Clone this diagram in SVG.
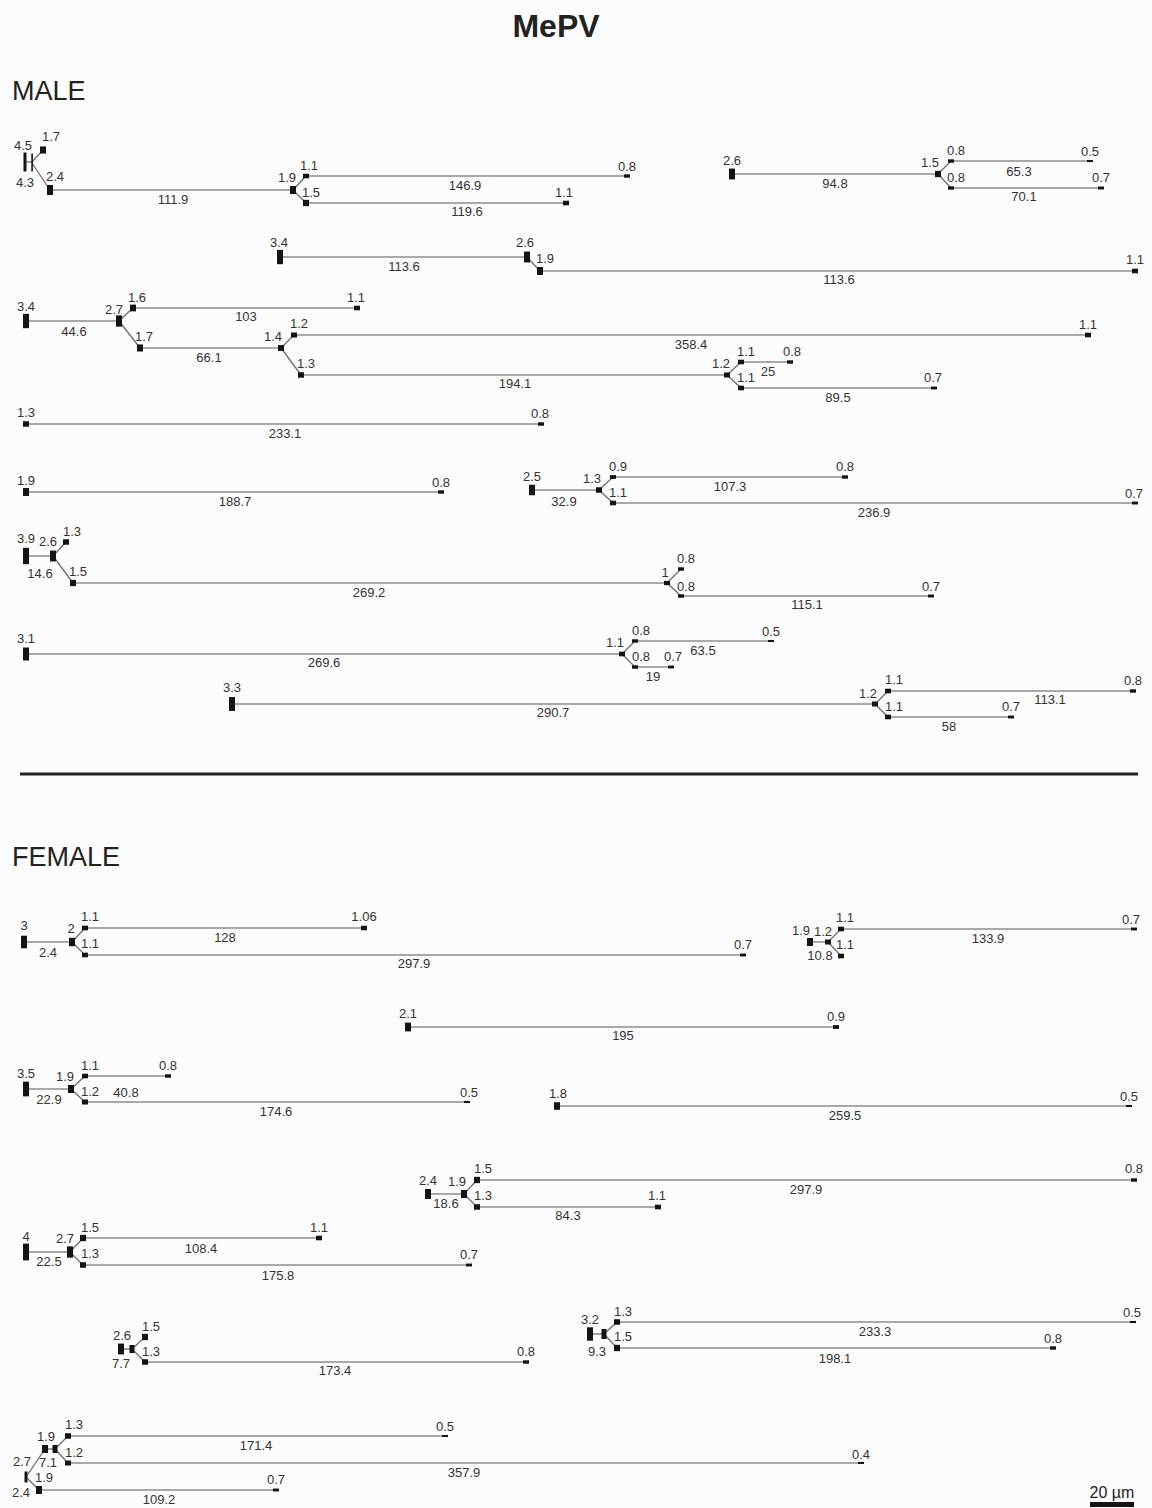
<svg xmlns="http://www.w3.org/2000/svg" width="1152" height="1508" viewBox="0 0 1152 1508">
<style>
.s{stroke:#a9a9a9;stroke-width:2;fill:none}
.b{stroke:#6e6e6e;stroke-width:1.3;fill:none}
.n{fill:#141414}
.t{font-family:"Liberation Sans",Arial,sans-serif;font-size:13px;fill:#333;text-anchor:middle}
.h{font-family:"Liberation Sans",Arial,sans-serif;font-size:27px;fill:#222}
</style>
<rect width="1152" height="1508" fill="#fcfcfc"/>
<text x="556" y="37" font-family="Liberation Sans, Arial, sans-serif" font-size="32" font-weight="bold" fill="#222" text-anchor="middle">MePV</text>
<text class="h" x="12" y="100">MALE</text>
<text class="h" x="12" y="866">FEMALE</text>
<line x1="20" y1="774" x2="1138" y2="774" stroke="#222" stroke-width="3"/>

<g id="connectors">
<!-- M1 -->
<line class="b" x1="25" y1="162" x2="32" y2="162"/>
<line class="b" x1="32" y1="162" x2="43" y2="150"/>
<line class="b" x1="32" y1="163" x2="50" y2="190"/>
<line class="s" x1="50" y1="190" x2="293" y2="190"/>
<line class="b" x1="293" y1="190" x2="306" y2="176"/>
<line class="b" x1="293" y1="190" x2="306" y2="203"/>
<line class="s" x1="306" y1="176" x2="627" y2="176"/>
<line class="s" x1="306" y1="203" x2="566" y2="203"/>
<!-- M2 -->
<line class="s" x1="732" y1="174" x2="938" y2="174"/>
<line class="b" x1="938" y1="174" x2="951" y2="161"/>
<line class="b" x1="938" y1="174" x2="951" y2="188"/>
<line class="s" x1="951" y1="161" x2="1090" y2="161"/>
<line class="s" x1="951" y1="188" x2="1101" y2="188"/>
<!-- M3 -->
<line class="s" x1="280" y1="257" x2="527" y2="257"/>
<line class="b" x1="527" y1="257" x2="540" y2="271"/>
<line class="s" x1="540" y1="271" x2="1135" y2="271"/>
<!-- M4 -->
<line class="s" x1="26" y1="321" x2="119" y2="321"/>
<line class="b" x1="119" y1="321" x2="133" y2="308"/>
<line class="s" x1="133" y1="308" x2="357" y2="308"/>
<line class="b" x1="119" y1="321" x2="140" y2="348"/>
<line class="s" x1="140" y1="348" x2="281" y2="348"/>
<line class="b" x1="281" y1="348" x2="294" y2="335"/>
<line class="s" x1="294" y1="335" x2="1088" y2="335"/>
<line class="b" x1="281" y1="348" x2="301" y2="375"/>
<line class="s" x1="301" y1="375" x2="727" y2="375"/>
<line class="b" x1="727" y1="375" x2="741" y2="362"/>
<line class="s" x1="741" y1="362" x2="790" y2="362"/>
<line class="b" x1="727" y1="375" x2="741" y2="388"/>
<line class="s" x1="741" y1="388" x2="934" y2="388"/>
<!-- M5 -->
<line class="s" x1="26" y1="424" x2="541" y2="424"/>
<!-- M6 -->
<line class="s" x1="26" y1="492" x2="441" y2="492"/>
<!-- M7 -->
<line class="s" x1="532" y1="490" x2="599" y2="490"/>
<line class="b" x1="599" y1="490" x2="613" y2="477"/>
<line class="s" x1="613" y1="477" x2="845" y2="477"/>
<line class="b" x1="599" y1="490" x2="613" y2="503"/>
<line class="s" x1="613" y1="503" x2="1135" y2="503"/>
<!-- M8 -->
<line class="s" x1="26" y1="556" x2="53" y2="556"/>
<line class="b" x1="53" y1="556" x2="66" y2="542"/>
<line class="b" x1="53" y1="556" x2="73" y2="583"/>
<line class="s" x1="73" y1="583" x2="667" y2="583"/>
<line class="b" x1="667" y1="583" x2="681" y2="569"/>
<line class="b" x1="667" y1="583" x2="681" y2="596"/>
<line class="s" x1="681" y1="596" x2="931" y2="596"/>
<!-- M9 -->
<line class="s" x1="26" y1="654" x2="622" y2="654"/>
<line class="b" x1="622" y1="654" x2="635" y2="641"/>
<line class="s" x1="635" y1="641" x2="771" y2="641"/>
<line class="b" x1="622" y1="654" x2="635" y2="667"/>
<line class="s" x1="635" y1="667" x2="671" y2="667"/>
<!-- M10 -->
<line class="s" x1="232" y1="704" x2="875" y2="704"/>
<line class="b" x1="875" y1="704" x2="888" y2="691"/>
<line class="s" x1="888" y1="691" x2="1133" y2="691"/>
<line class="b" x1="875" y1="704" x2="888" y2="717"/>
<line class="s" x1="888" y1="717" x2="1011" y2="717"/>
<!-- F1 -->
<line class="s" x1="24" y1="942" x2="72" y2="942"/>
<line class="b" x1="72" y1="942" x2="85" y2="928"/>
<line class="s" x1="85" y1="928" x2="364" y2="928"/>
<line class="b" x1="72" y1="942" x2="85" y2="955"/>
<line class="s" x1="85" y1="955" x2="743" y2="955"/>
<!-- F2 -->
<line class="s" x1="810" y1="942" x2="828" y2="942"/>
<line class="b" x1="828" y1="942" x2="841" y2="929"/>
<line class="s" x1="841" y1="929" x2="1134" y2="929"/>
<line class="b" x1="828" y1="942" x2="841" y2="956"/>
<!-- F3 -->
<line class="s" x1="408" y1="1027" x2="836" y2="1027"/>
<!-- F4 -->
<line class="s" x1="26" y1="1089" x2="71" y2="1089"/>
<line class="b" x1="71" y1="1089" x2="85" y2="1076"/>
<line class="s" x1="85" y1="1076" x2="168" y2="1076"/>
<line class="b" x1="71" y1="1089" x2="85" y2="1102"/>
<line class="s" x1="85" y1="1102" x2="467" y2="1102"/>
<!-- F5 -->
<line class="s" x1="557" y1="1106" x2="1129" y2="1106"/>
<!-- F6 -->
<line class="s" x1="428" y1="1194" x2="464" y2="1194"/>
<line class="b" x1="464" y1="1194" x2="477" y2="1180"/>
<line class="s" x1="477" y1="1180" x2="1134" y2="1180"/>
<line class="b" x1="464" y1="1194" x2="477" y2="1207"/>
<line class="s" x1="477" y1="1207" x2="658" y2="1207"/>
<!-- F7 -->
<line class="s" x1="26" y1="1252" x2="70" y2="1252"/>
<line class="b" x1="70" y1="1252" x2="83" y2="1238"/>
<line class="s" x1="83" y1="1238" x2="319" y2="1238"/>
<line class="b" x1="70" y1="1252" x2="83" y2="1265"/>
<line class="s" x1="83" y1="1265" x2="469" y2="1265"/>
<!-- F8 -->
<line class="b" x1="121" y1="1349" x2="132" y2="1349"/>
<line class="b" x1="132" y1="1349" x2="145" y2="1337"/>
<line class="b" x1="132" y1="1349" x2="145" y2="1362"/>
<line class="s" x1="145" y1="1362" x2="526" y2="1362"/>
<!-- F9 -->
<line class="b" x1="590" y1="1334" x2="604" y2="1334"/>
<line class="b" x1="604" y1="1334" x2="617" y2="1322"/>
<line class="s" x1="617" y1="1322" x2="1133" y2="1322"/>
<line class="b" x1="604" y1="1334" x2="617" y2="1348"/>
<line class="s" x1="617" y1="1348" x2="1053" y2="1348"/>
<!-- F10 -->
<line class="b" x1="26" y1="1477" x2="45" y2="1449"/>
<line class="b" x1="45" y1="1449" x2="55" y2="1449"/>
<line class="b" x1="55" y1="1449" x2="68" y2="1436"/>
<line class="s" x1="68" y1="1436" x2="445" y2="1436"/>
<line class="b" x1="55" y1="1449" x2="68" y2="1463"/>
<line class="s" x1="68" y1="1463" x2="861" y2="1463"/>
<line class="b" x1="26" y1="1477" x2="39" y2="1490"/>
<line class="s" x1="39" y1="1490" x2="276" y2="1490"/>
</g>

<g id="m1">
<rect class="n" x="23.5" y="152.5" width="3" height="19"/>
<rect class="n" x="31.3" y="153.5" width="1.6" height="18"/>
<rect class="n" x="40" y="146.45" width="6" height="7.1"/>
<rect class="n" x="47" y="185" width="6" height="10"/>
<rect class="n" x="290" y="186" width="6" height="8"/>
<rect class="n" x="303" y="173.7" width="6" height="4.6"/>
<rect class="n" x="303" y="199.85" width="6" height="6.3"/>
<rect class="n" x="624" y="174.3" width="6" height="3.4"/>
<rect class="n" x="563" y="200.7" width="6" height="4.6"/>
<text class="t" x="23" y="150">4.5</text>
<text class="t" x="51" y="141">1.7</text>
<text class="t" x="25" y="187">4.3</text>
<text class="t" x="55" y="181">2.4</text>
<text class="t" x="173" y="204">111.9</text>
<text class="t" x="287" y="182">1.9</text>
<text class="t" x="309" y="170">1.1</text>
<text class="t" x="311" y="197">1.5</text>
<text class="t" x="627" y="171">0.8</text>
<text class="t" x="465" y="190">146.9</text>
<text class="t" x="467" y="216">119.6</text>
<text class="t" x="564" y="197">1.1</text>
</g>

<g id="m2">
<rect class="n" x="729" y="168.55" width="6" height="10.9"/>
<rect class="n" x="935" y="170.85" width="6" height="6.3"/>
<rect class="n" x="948" y="159.3" width="6" height="3.4"/>
<rect class="n" x="1087" y="159.95" width="6" height="2.1"/>
<rect class="n" x="948" y="186.3" width="6" height="3.4"/>
<rect class="n" x="1098" y="186.55" width="6" height="2.9"/>
<text class="t" x="732" y="165">2.6</text>
<text class="t" x="835" y="188">94.8</text>
<text class="t" x="930" y="167">1.5</text>
<text class="t" x="956" y="155">0.8</text>
<text class="t" x="1090" y="156">0.5</text>
<text class="t" x="1019" y="176">65.3</text>
<text class="t" x="956" y="182">0.8</text>
<text class="t" x="1101" y="182">0.7</text>
<text class="t" x="1024" y="201">70.1</text>
</g>

<g id="m3">
<rect class="n" x="277" y="249.85" width="6" height="14.3"/>
<rect class="n" x="524" y="251.55" width="6" height="10.9"/>
<rect class="n" x="537" y="267" width="6" height="8"/>
<rect class="n" x="1132" y="268.7" width="6" height="4.6"/>
<text class="t" x="279" y="247">3.4</text>
<text class="t" x="404" y="271">113.6</text>
<text class="t" x="525" y="247">2.6</text>
<text class="t" x="545" y="263">1.9</text>
<text class="t" x="1135" y="264">1.1</text>
<text class="t" x="839" y="284">113.6</text>
</g>

<g id="m4">
<rect class="n" x="23" y="313.85" width="6" height="14.3"/>
<rect class="n" x="116" y="315.35" width="6" height="11.3"/>
<rect class="n" x="130" y="304.65" width="6" height="6.7"/>
<rect class="n" x="354" y="305.7" width="6" height="4.6"/>
<rect class="n" x="137" y="344.45" width="6" height="7.1"/>
<rect class="n" x="278" y="345.05" width="6" height="5.9"/>
<rect class="n" x="291" y="332.5" width="6" height="5"/>
<rect class="n" x="1085" y="332.7" width="6" height="4.6"/>
<rect class="n" x="298" y="372.25" width="6" height="5.5"/>
<rect class="n" x="724" y="372.5" width="6" height="5"/>
<rect class="n" x="738" y="359.7" width="6" height="4.6"/>
<rect class="n" x="787" y="360.3" width="6" height="3.4"/>
<rect class="n" x="738" y="385.7" width="6" height="4.6"/>
<rect class="n" x="931" y="386.55" width="6" height="2.9"/>
<text class="t" x="26" y="311">3.4</text>
<text class="t" x="74" y="336">44.6</text>
<text class="t" x="114" y="314">2.7</text>
<text class="t" x="137" y="302">1.6</text>
<text class="t" x="356" y="302">1.1</text>
<text class="t" x="246" y="321">103</text>
<text class="t" x="144" y="341">1.7</text>
<text class="t" x="209" y="362">66.1</text>
<text class="t" x="273" y="341">1.4</text>
<text class="t" x="299" y="328">1.2</text>
<text class="t" x="1088" y="329">1.1</text>
<text class="t" x="691" y="349">358.4</text>
<text class="t" x="306" y="368">1.3</text>
<text class="t" x="515" y="388">194.1</text>
<text class="t" x="721" y="368">1.2</text>
<text class="t" x="746" y="356">1.1</text>
<text class="t" x="792" y="356">0.8</text>
<text class="t" x="768" y="376">25</text>
<text class="t" x="746" y="382">1.1</text>
<text class="t" x="933" y="382">0.7</text>
<text class="t" x="838" y="402">89.5</text>
</g>

<g id="m5">
<rect class="n" x="23" y="421.25" width="6" height="5.5"/>
<rect class="n" x="538" y="422.3" width="6" height="3.4"/>
<text class="t" x="26" y="417">1.3</text>
<text class="t" x="540" y="418">0.8</text>
<text class="t" x="285" y="438">233.1</text>
</g>

<g id="m6">
<rect class="n" x="23" y="488" width="6" height="8"/>
<rect class="n" x="438" y="490.3" width="6" height="3.4"/>
<text class="t" x="26" y="485">1.9</text>
<text class="t" x="441" y="487">0.8</text>
<text class="t" x="235" y="506">188.7</text>
</g>

<g id="m7">
<rect class="n" x="529" y="484.75" width="6" height="10.5"/>
<rect class="n" x="596" y="487.25" width="6" height="5.5"/>
<rect class="n" x="610" y="475.1" width="6" height="3.8"/>
<rect class="n" x="842" y="475.3" width="6" height="3.4"/>
<rect class="n" x="610" y="500.7" width="6" height="4.6"/>
<rect class="n" x="1132" y="501.55" width="6" height="2.9"/>
<text class="t" x="532" y="481">2.5</text>
<text class="t" x="564" y="506">32.9</text>
<text class="t" x="592" y="483">1.3</text>
<text class="t" x="618" y="471">0.9</text>
<text class="t" x="845" y="471">0.8</text>
<text class="t" x="730" y="491">107.3</text>
<text class="t" x="618" y="497">1.1</text>
<text class="t" x="1134" y="498">0.7</text>
<text class="t" x="874" y="517">236.9</text>
</g>

<g id="m8">
<rect class="n" x="23" y="547.8" width="6" height="16.4"/>
<rect class="n" x="50" y="550.55" width="6" height="10.9"/>
<rect class="n" x="63" y="539.25" width="6" height="5.5"/>
<rect class="n" x="70" y="579.85" width="6" height="6.3"/>
<rect class="n" x="664" y="580.9" width="6" height="4.2"/>
<rect class="n" x="678" y="567.3" width="6" height="3.4"/>
<rect class="n" x="678" y="594.3" width="6" height="3.4"/>
<rect class="n" x="928" y="594.55" width="6" height="2.9"/>
<text class="t" x="26" y="543">3.9</text>
<text class="t" x="48" y="546">2.6</text>
<text class="t" x="40" y="578">14.6</text>
<text class="t" x="72" y="536">1.3</text>
<text class="t" x="78" y="576">1.5</text>
<text class="t" x="369" y="597">269.2</text>
<text class="t" x="665" y="577">1</text>
<text class="t" x="686" y="563">0.8</text>
<text class="t" x="686" y="591">0.8</text>
<text class="t" x="931" y="591">0.7</text>
<text class="t" x="807" y="609">115.1</text>
</g>

<g id="m9">
<rect class="n" x="23" y="647.5" width="6" height="13"/>
<rect class="n" x="619" y="651.7" width="6" height="4.6"/>
<rect class="n" x="632" y="639.3" width="6" height="3.4"/>
<rect class="n" x="768" y="639.95" width="6" height="2.1"/>
<rect class="n" x="632" y="665.3" width="6" height="3.4"/>
<rect class="n" x="668" y="665.55" width="6" height="2.9"/>
<text class="t" x="26" y="643">3.1</text>
<text class="t" x="324" y="667">269.6</text>
<text class="t" x="615" y="647">1.1</text>
<text class="t" x="641" y="635">0.8</text>
<text class="t" x="771" y="636">0.5</text>
<text class="t" x="703" y="655">63.5</text>
<text class="t" x="641" y="661">0.8</text>
<text class="t" x="673" y="661">0.7</text>
<text class="t" x="653" y="681">19</text>
</g>

<g id="m10">
<rect class="n" x="229" y="697.05" width="6" height="13.9"/>
<rect class="n" x="872" y="701.5" width="6" height="5"/>
<rect class="n" x="885" y="688.7" width="6" height="4.6"/>
<rect class="n" x="1130" y="689.3" width="6" height="3.4"/>
<rect class="n" x="885" y="714.7" width="6" height="4.6"/>
<rect class="n" x="1008" y="715.55" width="6" height="2.9"/>
<text class="t" x="232" y="692">3.3</text>
<text class="t" x="553" y="717">290.7</text>
<text class="t" x="868" y="698">1.2</text>
<text class="t" x="894" y="684">1.1</text>
<text class="t" x="1133" y="685">0.8</text>
<text class="t" x="1050" y="704">113.1</text>
<text class="t" x="894" y="711">1.1</text>
<text class="t" x="1011" y="711">0.7</text>
<text class="t" x="949" y="731">58</text>
</g>

<g id="f1">
<rect class="n" x="21" y="935.7" width="6" height="12.6"/>
<rect class="n" x="69" y="937.8" width="6" height="8.4"/>
<rect class="n" x="82" y="925.7" width="6" height="4.6"/>
<rect class="n" x="361" y="925.75" width="6" height="4.5"/>
<rect class="n" x="82" y="952.7" width="6" height="4.6"/>
<rect class="n" x="740" y="953.55" width="6" height="2.9"/>
<text class="t" x="24" y="930">3</text>
<text class="t" x="48" y="957">2.4</text>
<text class="t" x="71" y="933">2</text>
<text class="t" x="90" y="921">1.1</text>
<text class="t" x="364" y="921">1.06</text>
<text class="t" x="225" y="942">128</text>
<text class="t" x="90" y="948">1.1</text>
<text class="t" x="743" y="949">0.7</text>
<text class="t" x="414" y="968">297.9</text>
</g>

<g id="f2">
<rect class="n" x="807" y="938" width="6" height="8"/>
<rect class="n" x="825" y="939.5" width="6" height="5"/>
<rect class="n" x="838" y="926.7" width="6" height="4.6"/>
<rect class="n" x="1131" y="927.55" width="6" height="2.9"/>
<rect class="n" x="838" y="953.7" width="6" height="4.6"/>
<text class="t" x="801" y="935">1.9</text>
<text class="t" x="823" y="936">1.2</text>
<text class="t" x="820" y="960">10.8</text>
<text class="t" x="845" y="922">1.1</text>
<text class="t" x="1131" y="924">0.7</text>
<text class="t" x="988" y="943">133.9</text>
<text class="t" x="845" y="949">1.1</text>
</g>

<g id="f3">
<rect class="n" x="405" y="1022.6" width="6" height="8.8"/>
<rect class="n" x="833" y="1025.1" width="6" height="3.8"/>
<text class="t" x="408" y="1018">2.1</text>
<text class="t" x="836" y="1021">0.9</text>
<text class="t" x="623" y="1040">195</text>
</g>

<g id="f4">
<rect class="n" x="23" y="1081.65" width="6" height="14.7"/>
<rect class="n" x="68" y="1085" width="6" height="8"/>
<rect class="n" x="82" y="1073.7" width="6" height="4.6"/>
<rect class="n" x="165" y="1074.3" width="6" height="3.4"/>
<rect class="n" x="82" y="1099.5" width="6" height="5"/>
<rect class="n" x="464" y="1100.95" width="6" height="2.1"/>
<text class="t" x="26" y="1078">3.5</text>
<text class="t" x="49" y="1104">22.9</text>
<text class="t" x="65" y="1081">1.9</text>
<text class="t" x="90" y="1070">1.1</text>
<text class="t" x="168" y="1070">0.8</text>
<text class="t" x="126" y="1097">40.8</text>
<text class="t" x="90" y="1096">1.2</text>
<text class="t" x="469" y="1097">0.5</text>
<text class="t" x="276" y="1116">174.6</text>
</g>

<g id="f5">
<rect class="n" x="554" y="1102.2" width="6" height="7.6"/>
<rect class="n" x="1126" y="1104.95" width="6" height="2.1"/>
<text class="t" x="558" y="1098">1.8</text>
<text class="t" x="1129" y="1101">0.5</text>
<text class="t" x="845" y="1120">259.5</text>
</g>

<g id="f6">
<rect class="n" x="425" y="1189" width="6" height="10"/>
<rect class="n" x="461" y="1190" width="6" height="8"/>
<rect class="n" x="474" y="1176.85" width="6" height="6.3"/>
<rect class="n" x="1131" y="1178.3" width="6" height="3.4"/>
<rect class="n" x="474" y="1204.25" width="6" height="5.5"/>
<rect class="n" x="655" y="1204.7" width="6" height="4.6"/>
<text class="t" x="428" y="1185">2.4</text>
<text class="t" x="446" y="1208">18.6</text>
<text class="t" x="457" y="1186">1.9</text>
<text class="t" x="483" y="1173">1.5</text>
<text class="t" x="1134" y="1173">0.8</text>
<text class="t" x="806" y="1194">297.9</text>
<text class="t" x="483" y="1200">1.3</text>
<text class="t" x="657" y="1200">1.1</text>
<text class="t" x="568" y="1220">84.3</text>
</g>

<g id="f7">
<rect class="n" x="23" y="1243.6" width="6" height="16.8"/>
<rect class="n" x="67" y="1246.35" width="6" height="11.3"/>
<rect class="n" x="80" y="1234.85" width="6" height="6.3"/>
<rect class="n" x="316" y="1235.7" width="6" height="4.6"/>
<rect class="n" x="80" y="1262.25" width="6" height="5.5"/>
<rect class="n" x="466" y="1263.55" width="6" height="2.9"/>
<text class="t" x="26" y="1241">4</text>
<text class="t" x="49" y="1266">22.5</text>
<text class="t" x="65" y="1243">2.7</text>
<text class="t" x="90" y="1232">1.5</text>
<text class="t" x="319" y="1232">1.1</text>
<text class="t" x="201" y="1253">108.4</text>
<text class="t" x="90" y="1258">1.3</text>
<text class="t" x="469" y="1259">0.7</text>
<text class="t" x="278" y="1280">175.8</text>
</g>

<g id="f8">
<rect class="n" x="118" y="1343.55" width="6" height="10.9"/>
<rect class="n" x="129.5" y="1345" width="5" height="8"/>
<rect class="n" x="142" y="1333.85" width="6" height="6.3"/>
<rect class="n" x="142" y="1359.25" width="6" height="5.5"/>
<rect class="n" x="523" y="1360.3" width="6" height="3.4"/>
<text class="t" x="122" y="1340">2.6</text>
<text class="t" x="121" y="1368">7.7</text>
<text class="t" x="151" y="1331">1.5</text>
<text class="t" x="151" y="1356">1.3</text>
<text class="t" x="526" y="1356">0.8</text>
<text class="t" x="335" y="1375">173.4</text>
</g>

<g id="f9">
<rect class="n" x="587" y="1327.3" width="6" height="13.4"/>
<rect class="n" x="601.5" y="1329" width="5" height="10"/>
<rect class="n" x="614" y="1319.25" width="6" height="5.5"/>
<rect class="n" x="1130" y="1320.95" width="6" height="2.1"/>
<rect class="n" x="614" y="1344.85" width="6" height="6.3"/>
<rect class="n" x="1050" y="1346.3" width="6" height="3.4"/>
<text class="t" x="590" y="1324">3.2</text>
<text class="t" x="597" y="1356">9.3</text>
<text class="t" x="623" y="1316">1.3</text>
<text class="t" x="1132" y="1317">0.5</text>
<text class="t" x="875" y="1336">233.3</text>
<text class="t" x="623" y="1341">1.5</text>
<text class="t" x="1053" y="1343">0.8</text>
<text class="t" x="835" y="1363">198.1</text>
</g>

<g id="f10">
<rect class="n" x="24.5" y="1471.5" width="3" height="11"/>
<rect class="n" x="42" y="1445" width="6" height="8"/>
<rect class="n" x="52.5" y="1445" width="5" height="8"/>
<rect class="n" x="65" y="1433.25" width="6" height="5.5"/>
<rect class="n" x="442" y="1434.95" width="6" height="2.1"/>
<rect class="n" x="65" y="1460.5" width="6" height="5"/>
<rect class="n" x="858" y="1462" width="6" height="2"/>
<rect class="n" x="36" y="1486" width="6" height="8"/>
<rect class="n" x="273" y="1488.55" width="6" height="2.9"/>
<text class="t" x="22" y="1466">2.7</text>
<text class="t" x="21" y="1497">2.4</text>
<text class="t" x="46" y="1441">1.9</text>
<text class="t" x="48" y="1467">7.1</text>
<text class="t" x="74" y="1429">1.3</text>
<text class="t" x="445" y="1431">0.5</text>
<text class="t" x="256" y="1450">171.4</text>
<text class="t" x="74" y="1457">1.2</text>
<text class="t" x="861" y="1459">0.4</text>
<text class="t" x="464" y="1477">357.9</text>
<text class="t" x="44" y="1482">1.9</text>
<text class="t" x="276" y="1484">0.7</text>
<text class="t" x="159" y="1504">109.2</text>
</g>

<g id="scalebar">
<rect x="1090" y="1502" width="44" height="5" fill="#141414"/>
<text x="1112" y="1498" font-family="Liberation Sans, Arial, sans-serif" font-size="16" fill="#222" text-anchor="middle">20 µm</text>
</g>
</svg>
